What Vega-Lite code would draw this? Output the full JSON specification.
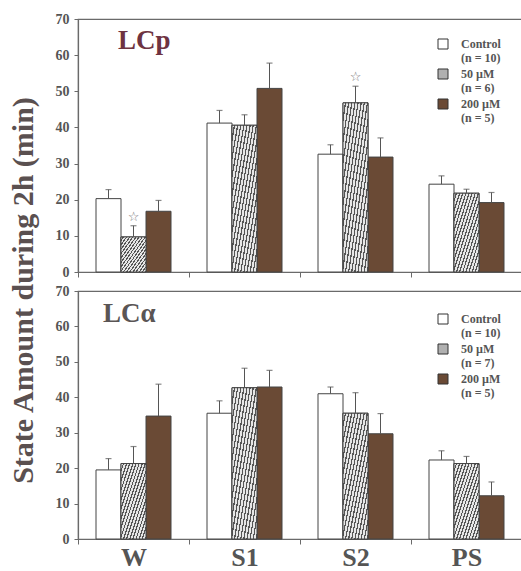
{
  "$schema": "https://vega.github.io/schema/vega-lite/v6.json",
  "padding": {"left": 7, "top": 11, "right": 0, "bottom": 4},
  "background": "white",
  "config": {
    "font": "Liberation Serif",
    "view": {"stroke": "#6a6a6a", "strokeWidth": 1.2},
    "axis": {
      "domainColor": "#6a6a6a",
      "tickColor": "#6a6a6a",
      "labelFont": "Liberation Serif",
      "labelFontWeight": "bold",
      "labelColor": "#555555",
      "titleFont": "Liberation Serif",
      "titleFontWeight": "bold",
      "titleColor": "#5a5050",
      "grid": false
    },
    "axisY": {"labelFontSize": 14, "tickSize": 4, "labelPadding": 5, "domainWidth": 1.2, "labelOverlap": false},
    "legend": {
      "orient": "none",
      "title": null,
      "padding": 0,
      "symbolType": "square",
      "symbolSize": 100,
      "symbolStrokeColor": "#333333",
      "symbolStrokeWidth": 1,
      "labelFont": "Liberation Serif",
      "labelFontWeight": "bold",
      "labelFontSize": 12,
      "labelColor": "#555555",
      "labelOffset": 12,
      "rowPadding": 3
    }
  },
  "datasets": {
    "lcp": [
      {"state": "W", "dose": "Control", "mean": 20.3, "upper": 22.8, "sig": false},
      {"state": "W", "dose": "50 µM", "mean": 9.7, "upper": 12.8, "sig": true},
      {"state": "W", "dose": "200 µM", "mean": 16.8, "upper": 19.8, "sig": false},
      {"state": "S1", "dose": "Control", "mean": 41.2, "upper": 44.7, "sig": false},
      {"state": "S1", "dose": "50 µM", "mean": 40.6, "upper": 43.5, "sig": false},
      {"state": "S1", "dose": "200 µM", "mean": 50.8, "upper": 57.8, "sig": false},
      {"state": "S2", "dose": "Control", "mean": 32.6, "upper": 35.2, "sig": false},
      {"state": "S2", "dose": "50 µM", "mean": 46.8, "upper": 51.4, "sig": true},
      {"state": "S2", "dose": "200 µM", "mean": 31.8, "upper": 37.1, "sig": false},
      {"state": "PS", "dose": "Control", "mean": 24.3, "upper": 26.6, "sig": false},
      {"state": "PS", "dose": "50 µM", "mean": 21.8, "upper": 22.9, "sig": false},
      {"state": "PS", "dose": "200 µM", "mean": 19.2, "upper": 22.0, "sig": false}
    ],
    "lca": [
      {"state": "W", "dose": "Control", "mean": 19.5, "upper": 22.7, "sig": false},
      {"state": "W", "dose": "50 µM", "mean": 21.3, "upper": 26.1, "sig": false},
      {"state": "W", "dose": "200 µM", "mean": 34.7, "upper": 43.7, "sig": false},
      {"state": "S1", "dose": "Control", "mean": 35.5, "upper": 39.0, "sig": false},
      {"state": "S1", "dose": "50 µM", "mean": 42.7, "upper": 48.2, "sig": false},
      {"state": "S1", "dose": "200 µM", "mean": 42.9, "upper": 47.6, "sig": false},
      {"state": "S2", "dose": "Control", "mean": 41.0, "upper": 42.9, "sig": false},
      {"state": "S2", "dose": "50 µM", "mean": 35.5, "upper": 41.3, "sig": false},
      {"state": "S2", "dose": "200 µM", "mean": 29.7, "upper": 35.4, "sig": false},
      {"state": "PS", "dose": "Control", "mean": 22.3, "upper": 24.9, "sig": false},
      {"state": "PS", "dose": "50 µM", "mean": 21.3, "upper": 23.3, "sig": false},
      {"state": "PS", "dose": "200 µM", "mean": 12.2, "upper": 16.1, "sig": false}
    ]
  },
  "spacing": 19,
  "bounds": "flush",
  "resolve": {"scale": {"fill": "independent", "x": "independent", "xOffset": "independent", "y": "independent"}, "legend": {"fill": "independent"}},
  "vconcat": [
    {
      "width": 444,
      "height": 253,
      "data": {"name": "lcp"},
      "title": {"text": "LCp", "anchor": "start", "frame": "group", "font": "Liberation Serif", "fontSize": 27, "fontWeight": "bold", "color": "#6e3341", "baseline": "alphabetic", "offset": 0, "dx": 40, "dy": 64},
      "encoding": {
        "x": {"field": "state", "type": "nominal", "sort": ["W", "S1", "S2", "PS"], "scale": {"paddingInner": 0, "paddingOuter": 0},
              "axis": {"title": null, "labels": false, "tickBand": "extent", "tickSize": 5, "domainWidth": 1.2}},
        "xOffset": {"field": "dose", "type": "nominal", "sort": ["Control", "50 µM", "200 µM"], "scale": {"paddingInner": 0, "paddingOuter": 0.72}}
      },
      "layer": [
        {
          "mark": {"type": "bar", "stroke": "#444444", "strokeWidth": 1},
          "encoding": {
            "y": {"field": "mean", "type": "quantitative", "scale": {"domain": [0, 70], "nice": false},
                  "axis": {"values": [0, 10, 20, 30, 40, 50, 60, 70], "title": "State Amount during 2h (min)", "titleFontSize": 30, "titleAngle": 270, "titleAlign": "center", "titleBaseline": "alphabetic", "titleX": -46, "titleY": 271}},
            "fill": {"field": "dose", "type": "nominal", "sort": ["Control", "50 µM", "200 µM"],
                     "scale": {"domain": ["Control", "50 µM", "200 µM"], "range": ["#ffffff", "#b0b0b0", "#6a4a35"]},
                     "legend": {"legendX": 359, "legendY": 19,
                                "labelExpr": "datum.value == 'Control' ? ['Control', '(n = 10)'] : datum.value == '50 µM' ? ['50 µM', '(n = 6)'] : ['200 µM', '(n = 5)']"}}
          }
        },
        {
          "transform": [{"filter": "datum.dose == '50 µM'"}],
          "mark": {"type": "bar", "stroke": "#444444", "strokeWidth": 1,
                   "fill": {"gradient": "linear", "x1": 0, "y1": 0, "x2": 1, "y2": 1, "stops": [
                     {"offset": 0.0, "color": "#e6e6e6"}, {"offset": 0.0375, "color": "#e6e6e6"}, {"offset": 0.0375, "color": "#555555"}, {"offset": 0.0625, "color": "#555555"},
                     {"offset": 0.0625, "color": "#e6e6e6"}, {"offset": 0.1, "color": "#e6e6e6"}, {"offset": 0.1, "color": "#555555"}, {"offset": 0.125, "color": "#555555"},
                     {"offset": 0.125, "color": "#e6e6e6"}, {"offset": 0.1625, "color": "#e6e6e6"}, {"offset": 0.1625, "color": "#555555"}, {"offset": 0.1875, "color": "#555555"},
                     {"offset": 0.1875, "color": "#e6e6e6"}, {"offset": 0.225, "color": "#e6e6e6"}, {"offset": 0.225, "color": "#555555"}, {"offset": 0.25, "color": "#555555"},
                     {"offset": 0.25, "color": "#e6e6e6"}, {"offset": 0.2875, "color": "#e6e6e6"}, {"offset": 0.2875, "color": "#555555"}, {"offset": 0.3125, "color": "#555555"},
                     {"offset": 0.3125, "color": "#e6e6e6"}, {"offset": 0.35, "color": "#e6e6e6"}, {"offset": 0.35, "color": "#555555"}, {"offset": 0.375, "color": "#555555"},
                     {"offset": 0.375, "color": "#e6e6e6"}, {"offset": 0.4125, "color": "#e6e6e6"}, {"offset": 0.4125, "color": "#555555"}, {"offset": 0.4375, "color": "#555555"},
                     {"offset": 0.4375, "color": "#e6e6e6"}, {"offset": 0.475, "color": "#e6e6e6"}, {"offset": 0.475, "color": "#555555"}, {"offset": 0.5, "color": "#555555"},
                     {"offset": 0.5, "color": "#e6e6e6"}, {"offset": 0.5375, "color": "#e6e6e6"}, {"offset": 0.5375, "color": "#555555"}, {"offset": 0.5625, "color": "#555555"},
                     {"offset": 0.5625, "color": "#e6e6e6"}, {"offset": 0.6, "color": "#e6e6e6"}, {"offset": 0.6, "color": "#555555"}, {"offset": 0.625, "color": "#555555"},
                     {"offset": 0.625, "color": "#e6e6e6"}, {"offset": 0.6625, "color": "#e6e6e6"}, {"offset": 0.6625, "color": "#555555"}, {"offset": 0.6875, "color": "#555555"},
                     {"offset": 0.6875, "color": "#e6e6e6"}, {"offset": 0.725, "color": "#e6e6e6"}, {"offset": 0.725, "color": "#555555"}, {"offset": 0.75, "color": "#555555"},
                     {"offset": 0.75, "color": "#e6e6e6"}, {"offset": 0.7875, "color": "#e6e6e6"}, {"offset": 0.7875, "color": "#555555"}, {"offset": 0.8125, "color": "#555555"},
                     {"offset": 0.8125, "color": "#e6e6e6"}, {"offset": 0.85, "color": "#e6e6e6"}, {"offset": 0.85, "color": "#555555"}, {"offset": 0.875, "color": "#555555"},
                     {"offset": 0.875, "color": "#e6e6e6"}, {"offset": 0.9125, "color": "#e6e6e6"}, {"offset": 0.9125, "color": "#555555"}, {"offset": 0.9375, "color": "#555555"},
                     {"offset": 0.9375, "color": "#e6e6e6"}, {"offset": 0.975, "color": "#e6e6e6"}, {"offset": 0.975, "color": "#555555"}, {"offset": 1.0, "color": "#555555"}
                   ]}},
          "encoding": {
            "y": {"field": "mean", "type": "quantitative",
                  "axis": {"values": [0, 10, 20, 30, 40, 50, 60, 70], "title": "State Amount during 2h (min)", "titleFontSize": 30, "titleAngle": 270, "titleAlign": "center", "titleBaseline": "alphabetic", "titleX": -46, "titleY": 271}}
          }
        },
        {
          "mark": {"type": "rule", "color": "#555555", "strokeWidth": 1},
          "encoding": {"y": {"field": "mean", "type": "quantitative",
                             "axis": {"values": [0, 10, 20, 30, 40, 50, 60, 70], "title": "State Amount during 2h (min)", "titleFontSize": 30, "titleAngle": 270, "titleAlign": "center", "titleBaseline": "alphabetic", "titleX": -46, "titleY": 271}},
                       "y2": {"field": "upper"}}
        },
        {
          "mark": {"type": "tick", "color": "#555555", "size": 6, "thickness": 1.2, "orient": "horizontal"},
          "encoding": {"y": {"field": "upper", "type": "quantitative",
                             "axis": {"values": [0, 10, 20, 30, 40, 50, 60, 70], "title": "State Amount during 2h (min)", "titleFontSize": 30, "titleAngle": 270, "titleAlign": "center", "titleBaseline": "alphabetic", "titleX": -46, "titleY": 271}}}
        },
        {
          "transform": [{"filter": "datum.sig"}],
          "mark": {"type": "text", "text": "☆", "font": "DejaVu Sans", "fontSize": 13, "color": "#777777", "dy": -9},
          "encoding": {"y": {"field": "upper", "type": "quantitative",
                             "axis": {"values": [0, 10, 20, 30, 40, 50, 60, 70], "title": "State Amount during 2h (min)", "titleFontSize": 30, "titleAngle": 270, "titleAlign": "center", "titleBaseline": "alphabetic", "titleX": -46, "titleY": 271}}}
        }
      ]
    },
    {
      "width": 444,
      "height": 248,
      "data": {"name": "lca"},
      "title": {"text": "LCα", "anchor": "start", "frame": "group", "font": "Liberation Serif", "fontSize": 27, "fontWeight": "bold", "color": "#5a5555", "baseline": "alphabetic", "offset": 0, "dx": 25, "dy": 65},
      "encoding": {
        "x": {"field": "state", "type": "nominal", "sort": ["W", "S1", "S2", "PS"], "scale": {"paddingInner": 0, "paddingOuter": 0},
              "axis": {"title": null, "labelAngle": 0, "labelFontSize": 26, "labelPadding": 0, "tickBand": "extent", "tickSize": 5, "domainWidth": 1.2}},
        "xOffset": {"field": "dose", "type": "nominal", "sort": ["Control", "50 µM", "200 µM"], "scale": {"paddingInner": 0, "paddingOuter": 0.72}}
      },
      "layer": [
        {
          "mark": {"type": "bar", "stroke": "#444444", "strokeWidth": 1},
          "encoding": {
            "y": {"field": "mean", "type": "quantitative", "scale": {"domain": [0, 70], "nice": false},
                  "axis": {"values": [0, 10, 20, 30, 40, 50, 60, 70], "title": null}},
            "fill": {"field": "dose", "type": "nominal", "sort": ["Control", "50 µM", "200 µM"],
                     "scale": {"domain": ["Control", "50 µM", "200 µM"], "range": ["#ffffff", "#b0b0b0", "#6a4a35"]},
                     "legend": {"legendX": 359, "legendY": 22,
                                "labelExpr": "datum.value == 'Control' ? ['Control', '(n = 10)'] : datum.value == '50 µM' ? ['50 µM', '(n = 7)'] : ['200 µM', '(n = 5)']"}}
          }
        },
        {
          "transform": [{"filter": "datum.dose == '50 µM'"}],
          "mark": {"type": "bar", "stroke": "#444444", "strokeWidth": 1,
                   "fill": {"gradient": "linear", "x1": 0, "y1": 0, "x2": 1, "y2": 1, "stops": [
                     {"offset": 0.0, "color": "#e6e6e6"}, {"offset": 0.0375, "color": "#e6e6e6"}, {"offset": 0.0375, "color": "#555555"}, {"offset": 0.0625, "color": "#555555"},
                     {"offset": 0.0625, "color": "#e6e6e6"}, {"offset": 0.1, "color": "#e6e6e6"}, {"offset": 0.1, "color": "#555555"}, {"offset": 0.125, "color": "#555555"},
                     {"offset": 0.125, "color": "#e6e6e6"}, {"offset": 0.1625, "color": "#e6e6e6"}, {"offset": 0.1625, "color": "#555555"}, {"offset": 0.1875, "color": "#555555"},
                     {"offset": 0.1875, "color": "#e6e6e6"}, {"offset": 0.225, "color": "#e6e6e6"}, {"offset": 0.225, "color": "#555555"}, {"offset": 0.25, "color": "#555555"},
                     {"offset": 0.25, "color": "#e6e6e6"}, {"offset": 0.2875, "color": "#e6e6e6"}, {"offset": 0.2875, "color": "#555555"}, {"offset": 0.3125, "color": "#555555"},
                     {"offset": 0.3125, "color": "#e6e6e6"}, {"offset": 0.35, "color": "#e6e6e6"}, {"offset": 0.35, "color": "#555555"}, {"offset": 0.375, "color": "#555555"},
                     {"offset": 0.375, "color": "#e6e6e6"}, {"offset": 0.4125, "color": "#e6e6e6"}, {"offset": 0.4125, "color": "#555555"}, {"offset": 0.4375, "color": "#555555"},
                     {"offset": 0.4375, "color": "#e6e6e6"}, {"offset": 0.475, "color": "#e6e6e6"}, {"offset": 0.475, "color": "#555555"}, {"offset": 0.5, "color": "#555555"},
                     {"offset": 0.5, "color": "#e6e6e6"}, {"offset": 0.5375, "color": "#e6e6e6"}, {"offset": 0.5375, "color": "#555555"}, {"offset": 0.5625, "color": "#555555"},
                     {"offset": 0.5625, "color": "#e6e6e6"}, {"offset": 0.6, "color": "#e6e6e6"}, {"offset": 0.6, "color": "#555555"}, {"offset": 0.625, "color": "#555555"},
                     {"offset": 0.625, "color": "#e6e6e6"}, {"offset": 0.6625, "color": "#e6e6e6"}, {"offset": 0.6625, "color": "#555555"}, {"offset": 0.6875, "color": "#555555"},
                     {"offset": 0.6875, "color": "#e6e6e6"}, {"offset": 0.725, "color": "#e6e6e6"}, {"offset": 0.725, "color": "#555555"}, {"offset": 0.75, "color": "#555555"},
                     {"offset": 0.75, "color": "#e6e6e6"}, {"offset": 0.7875, "color": "#e6e6e6"}, {"offset": 0.7875, "color": "#555555"}, {"offset": 0.8125, "color": "#555555"},
                     {"offset": 0.8125, "color": "#e6e6e6"}, {"offset": 0.85, "color": "#e6e6e6"}, {"offset": 0.85, "color": "#555555"}, {"offset": 0.875, "color": "#555555"},
                     {"offset": 0.875, "color": "#e6e6e6"}, {"offset": 0.9125, "color": "#e6e6e6"}, {"offset": 0.9125, "color": "#555555"}, {"offset": 0.9375, "color": "#555555"},
                     {"offset": 0.9375, "color": "#e6e6e6"}, {"offset": 0.975, "color": "#e6e6e6"}, {"offset": 0.975, "color": "#555555"}, {"offset": 1.0, "color": "#555555"}
                   ]}},
          "encoding": {
            "y": {"field": "mean", "type": "quantitative", "axis": {"values": [0, 10, 20, 30, 40, 50, 60, 70], "title": null}}
          }
        },
        {
          "mark": {"type": "rule", "color": "#555555", "strokeWidth": 1},
          "encoding": {"y": {"field": "mean", "type": "quantitative", "axis": {"values": [0, 10, 20, 30, 40, 50, 60, 70], "title": null}}, "y2": {"field": "upper"}}
        },
        {
          "mark": {"type": "tick", "color": "#555555", "size": 6, "thickness": 1.2, "orient": "horizontal"},
          "encoding": {"y": {"field": "upper", "type": "quantitative", "axis": {"values": [0, 10, 20, 30, 40, 50, 60, 70], "title": null}}}
        }
      ]
    }
  ]
}
